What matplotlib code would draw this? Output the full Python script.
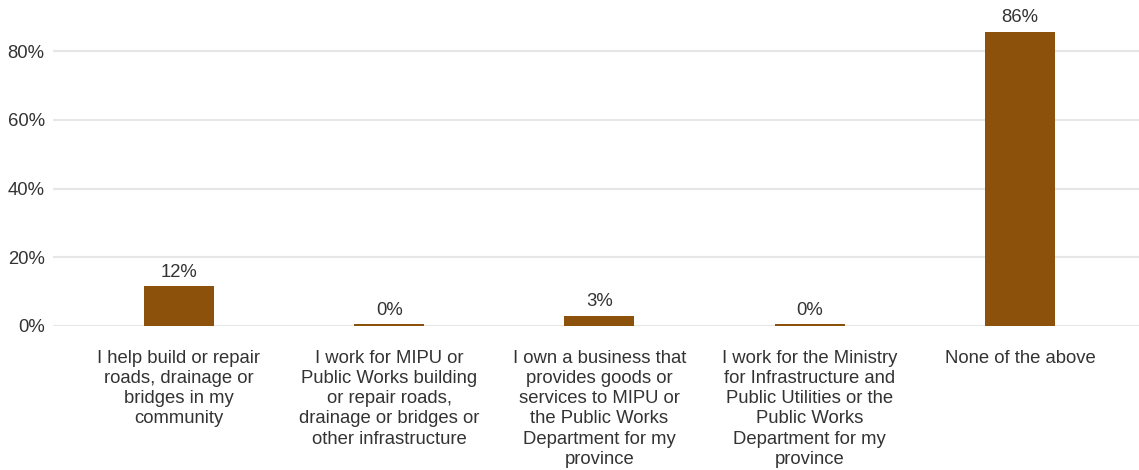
import matplotlib
matplotlib.use("Agg")
import matplotlib.pyplot as plt
from matplotlib.ticker import FuncFormatter

categories = [
    "I help build or repair\nroads, drainage or\nbridges in my\ncommunity",
    "I work for MIPU or\nPublic Works building\nor repair roads,\ndrainage or bridges or\nother infrastructure",
    "I own a business that\nprovides goods or\nservices to MIPU or\nthe Public Works\nDepartment for my\nprovince",
    "I work for the Ministry\nfor Infrastructure and\nPublic Utilities or the\nPublic Works\nDepartment for my\nprovince",
    "None of the above",
]
values = [11.6, 0.5, 2.9, 0.5, 85.6]
yticks = [0, 20, 40, 60, 80]

bar_color = "#8c510a"
text_color = "#333333"
font = ["Liberation Sans", "DejaVu Sans"]
fs = 13.3

plt.rcParams["font.family"] = font

fig = plt.figure(figsize=(11.39, 4.70), dpi=100)
ax = fig.add_axes([53 / 1139, 1 - 326 / 470, (1139 - 53) / 1139, (326 - 20) / 470])

x = list(range(len(categories)))
ax.bar(x, values, width=0.333, color=bar_color, linewidth=0, zorder=3)

for xi, v in zip(x, values):
    ax.annotate(f"{round(v):d}%", (xi, v), xytext=(0, 4), textcoords="offset points",
                ha="center", va="bottom", fontsize=fs, color=text_color)

ax.set_xlim(-0.599, 4.566)
ax.set_ylim(0, 80 * 306 / 275)
ax.set_yticks(yticks)
ax.yaxis.set_major_formatter(FuncFormatter(lambda v, p: f"{v:.0f}%"))
ax.grid(axis="y", color="#e6e6e6", linewidth=1.5, zorder=0)
ax.set_axisbelow(True)

ax.set_xticks(x)
ax.set_xticklabels(categories, fontsize=fs, color=text_color, linespacing=1.25, va="top")
ax.tick_params(axis="x", length=0, pad=17)
ax.tick_params(axis="y", length=0, pad=6, labelsize=fs, labelcolor=text_color)

for s in ax.spines.values():
    s.set_visible(False)

fig.savefig("out.png", dpi=100, facecolor="white")
